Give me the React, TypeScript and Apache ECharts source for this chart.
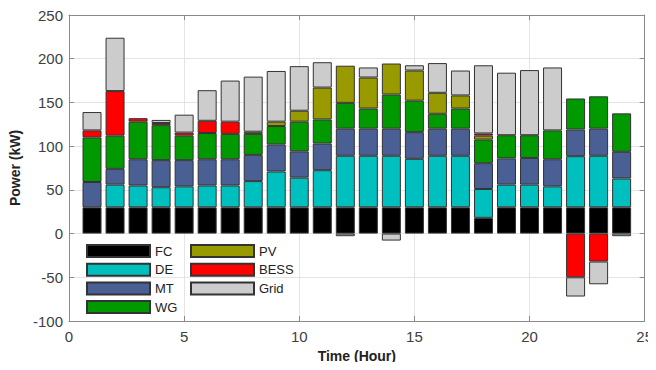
import React, { useEffect, useRef } from "react";
import * as echarts from "echarts";

const hours = [1, 2, 3, 4, 5, 6, 7, 8, 9, 10, 11, 12, 13, 14, 15, 16, 17, 18, 19, 20, 21, 22, 23, 24];
const axisHours = [0, 1, 2, 3, 4, 5, 6, 7, 8, 9, 10, 11, 12, 13, 14, 15, 16, 17, 18, 19, 20, 21, 22, 23, 24, 25];
const seriesNames = ["FC", "DE", "MT", "WG", "PV", "BESS", "Grid"];
const FC = [30, 30, 30, 30, 30, 30, 30, 30, 30, 30, 30, 30, 30, 30, 30, 30, 30, 18, 30, 30, 30, 30, 30, 30];
const DE = [null, 26, 25, 23, 24, 25, 25, 30, 41, 34, 42.5, 59, 59, 59, 55.5, 59, 59, 33, 26, 26, 24, 58.5, 59, 33];
const MT = [29, 18, 30, 31, 30, 30, 30, 30, 31, 30, 30.5, 31, 31, 31, 30.5, 31, 31, 29.5, 30, 30.5, 31, 30.5, 31, 30.5];
const WG = [51, 38, 43, 40, 28, 30, 29, 24, 21, 34, 27.5, 29.5, 23, 39, 36, 17, 23, 27, 26.5, 26, 33, 35.5, 37, 44];
const PV = [null, null, null, null, null, null, null, 2.5, 5, 12.5, 36.5, 42.5, 35.5, 35.5, 34.5, 24, 15, 4.5, null, null, null, null, null, null];
const BESS = [8, 51, 4, 2.5, 3.5, 14, 14, null, null, null, null, null, null, null, null, null, null, 2.5, null, null, null, -50, -32, null];
const Grid = [21, 61, null, 3.5, 20.5, 35, 47, 63, 58, 51, 29, -3, 11.5, -8, 6, 34, 28.5, 78, 71.5, 74.5, 72, -22, -26, -3];
const colors = ["#000000", "#00BFBF", "#4A5F94", "#009900", "#999900", "#FF0000", "#CCCCCC"];
const xLabelEvery = 5;
const yTicks = { min: -100, max: 250, interval: 50 };

const values = [FC, DE, MT, WG, PV, BESS, Grid];

export default function App() {
  const ref = useRef<HTMLDivElement>(null);
  useEffect(() => {
    if (!ref.current) return;
    const chart = echarts.init(ref.current, null, { renderer: "svg" });
    const font = "'Liberation Sans', Arial, sans-serif";
    const axisGrey = "#8a8a8a";
    const every = (i: number) => i % xLabelEvery === 0;
    const cats = axisHours.map(String);
    chart.setOption({
      animation: false,
      grid: { left: 68, right: 6, top: 15, bottom: 49, containLabel: false },
      legend: [
        {
          data: seriesNames.slice(0, 4),
          orient: "vertical",
          left: 86,
          top: 244,
          padding: 0,
          itemWidth: 63,
          itemHeight: 12,
          itemGap: 4.7,
          icon: "rect",
          textStyle: { fontFamily: font, fontSize: 13, color: "#222" },
        },
        {
          data: seriesNames.slice(4),
          orient: "vertical",
          left: 190,
          top: 244,
          padding: 0,
          itemWidth: 63,
          itemHeight: 12,
          itemGap: 4.7,
          icon: "rect",
          textStyle: { fontFamily: font, fontSize: 13, color: "#222" },
        },
      ],
      xAxis: [
        {
          type: "category",
          data: cats,
          boundaryGap: false,
          name: "Time (Hour)",
          nameLocation: "middle",
          nameGap: 20,
          nameTextStyle: { fontFamily: font, fontSize: 14, fontWeight: "bold", color: "#222" },
          axisLine: { show: true, onZero: false, lineStyle: { color: axisGrey } },
          axisTick: { inside: true, length: 5, interval: (i: number) => every(i), lineStyle: { color: axisGrey } },
          axisLabel: { fontFamily: font, fontSize: 15, color: "#404040", margin: 8, interval: (i: number) => every(i) },
          splitLine: { show: true, interval: (i: number) => every(i), lineStyle: { color: "#e4e4e4" } },
        },
        {
          type: "category",
          data: cats,
          boundaryGap: false,
          position: "top",
          axisLine: { show: true, onZero: false, lineStyle: { color: axisGrey } },
          axisTick: { inside: true, length: 5, interval: (i: number) => every(i), lineStyle: { color: axisGrey } },
          axisLabel: { show: false },
          splitLine: { show: false },
        },
      ],
      yAxis: [
        {
          type: "value",
          ...yTicks,
          name: "Power (kW)",
          nameLocation: "middle",
          nameGap: 47,
          nameRotate: 90,
          nameTextStyle: { fontFamily: font, fontSize: 14, fontWeight: "bold", color: "#222" },
          axisLine: { show: true, onZero: false, lineStyle: { color: axisGrey } },
          axisTick: { show: true, inside: true, length: 5, lineStyle: { color: axisGrey } },
          axisLabel: { fontFamily: font, fontSize: 15, color: "#404040", margin: 6 },
          splitLine: { show: true, lineStyle: { color: "#e4e4e4" } },
        },
        {
          type: "value",
          ...yTicks,
          position: "right",
          axisLine: { show: true, onZero: false, lineStyle: { color: axisGrey } },
          axisTick: { show: true, inside: true, length: 5, lineStyle: { color: axisGrey } },
          axisLabel: { show: false },
          splitLine: { show: false },
        },
      ],
      series: seriesNames.map((name, i) => ({
        name,
        type: "bar",
        stack: "total",
        xAxisIndex: 0,
        yAxisIndex: 0,
        barWidth: 19,
        itemStyle: { color: colors[i], borderColor: "#333", borderWidth: 1 },
        data: axisHours.map((h) => {
          const j = hours.indexOf(h);
          return j < 0 ? null : values[i][j];
        }),
      })),
    });
    return () => chart.dispose();
  }, []);
  return <div ref={ref} style={{ width: 656, height: 370, margin: -8 }} />;
}
